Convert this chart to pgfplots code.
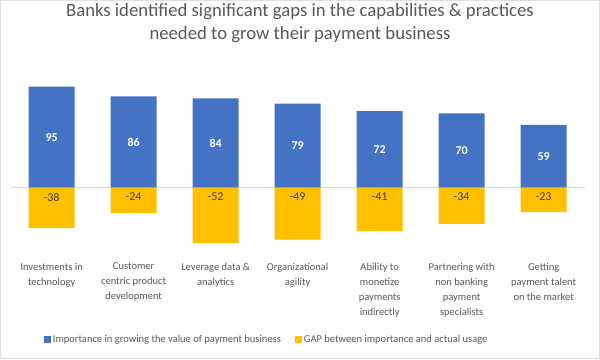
\documentclass[border=0pt]{standalone}
\usepackage{pgfplots}
\pgfplotsset{compat=1.18}
\usepackage{fontspec}
\setmainfont{Carlito}
\definecolor{barblue}{HTML}{4472C4}
\definecolor{bargold}{HTML}{FFC000}
\definecolor{txtgray}{HTML}{595959}
\definecolor{lblgray}{HTML}{404040}
\definecolor{zerogray}{HTML}{D9D9D9}
\begin{document}
\begin{tikzpicture}[x=1pt,y=1pt]
\fill[white] (0,0) rectangle (600,359);
\draw[gray!25] (0.5,0.5) rectangle (599.5,358.5);
\node[align=center, text=txtgray, font=\fontsize{18.7}{22.5}\selectfont] at (300,336) {Banks identified significant gaps in the capabilities \& practices\\needed to grow their payment business};
\begin{axis}[
  at={(13,101.25)}, anchor=south west,
  scale only axis, width=574pt, height=170pt,
  xmin=-0.5, xmax=6.5, ymin=-60, ymax=100,
  axis line style={draw=none},
  ytick=\empty,
  xtick={0,...,6},
  xtick style={draw=none},
  /pgf/number format/assume math mode=true,
  xticklabels={{Investments in\\technology},{Customer\\centric product\\development},{Leverage data \&\\analytics},{Organizational\\agility},{Ability to\\monetize\\payments\\indirectly},{Partnering with\\non banking\\payment\\specialists},{Getting\\payment talent\\on the market}},
  xticklabel style={align=center, text=txtgray, font=\fontsize{10.5}{15}\selectfont, anchor=north, yshift=-8pt},
  legend columns=2,
  legend style={at={(0.0575,-0.519)}, anchor=west, draw=none, fill=none, font=\fontsize{10.5}{12}\selectfont, text=txtgray, /tikz/every even column/.append style={column sep=12pt}, inner sep=0pt},
  legend image code/.code={\fill[#1] (0pt,-3.5pt) rectangle (7pt,3.5pt);},
  clip=false,
]
\addplot[sharp plot, forget plot, draw=zerogray, line width=0.8pt] coordinates {(-0.5,0) (6.5,0)};
\addplot[ybar, bar width=46pt, bar shift=0pt, fill=barblue, draw=none,
  visualization depends on={y \as \rawy},
  nodes near coords,
  every node near coord/.append style={anchor=center, text=white, font=\bfseries\fontsize{12}{14}\selectfont, yshift={-0.53125pt*\rawy}}]
  coordinates {(0,95) (1,86) (2,84) (3,79) (4,72) (5,70) (6,59)};
\addlegendentry{Importance in growing the value of payment business}
\addplot[ybar, bar width=46pt, bar shift=0pt, fill=bargold, draw=none,
  visualization depends on={y \as \rawy},
  nodes near coords,
  every node near coord/.append style={anchor=north, text=lblgray, font=\fontsize{12}{14}\selectfont, yshift={-1.0625pt*\rawy-2pt}}]
  coordinates {(0,-38) (1,-24) (2,-52) (3,-49) (4,-41) (5,-34) (6,-23)};
\addlegendentry{GAP between importance and actual usage}
\end{axis}
\pgfresetboundingbox
\useasboundingbox (0,0) rectangle (600,359);
\end{tikzpicture}
\end{document}
